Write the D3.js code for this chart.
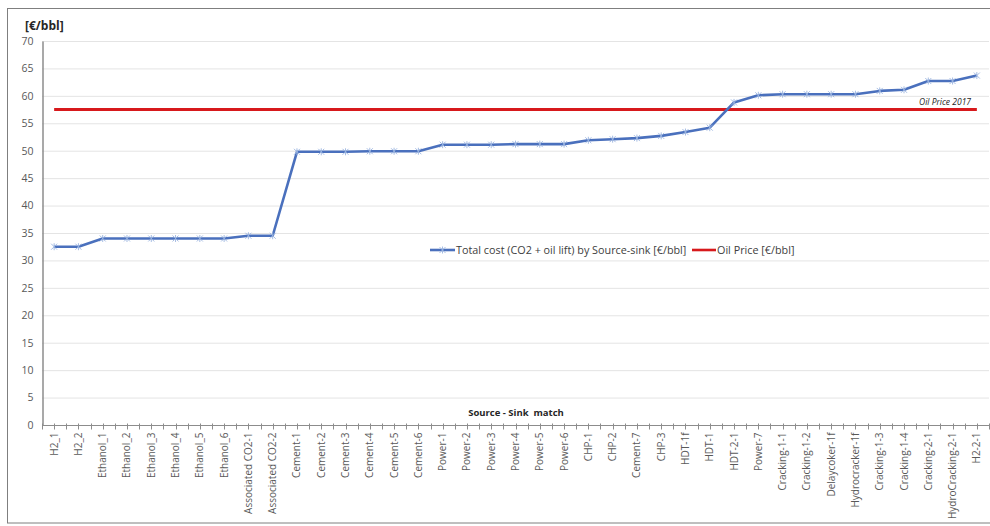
<!DOCTYPE html>
<html>
<head>
<meta charset="utf-8">
<script src="https://cdn.jsdelivr.net/npm/d3@7"></script>
<style>
  html, body { margin: 0; padding: 0; background: #fff; }
  svg { display: block; }
  text { font-family: "Open Sans", "Noto Sans", sans-serif; }
</style>
</head>
<body>
<svg id="chart" width="990" height="526"></svg>
<script>
// Source-sink matches along the x axis
const categories = [
  "H2_1", "H2_2", "Ethanol_1", "Ethanol_2", "Ethanol_3", "Ethanol_4", "Ethanol_5", "Ethanol_6",
  "Associated CO2-1", "Associated CO2-2",
  "Cement-1", "Cement-2", "Cement-3", "Cement-4", "Cement-5", "Cement-6",
  "Power-1", "Power-2", "Power-3", "Power-4", "Power-5", "Power-6",
  "CHP-1", "CHP-2", "Cement-7", "CHP-3", "HDT-1f", "HDT-1", "HDT-2-1", "Power-7",
  "Cracking-1-1", "Cracking-1-2", "Delaycoker-1f", "Hydrocracker-1f",
  "Cracking-1-3", "Cracking-1-4", "Cracking-2-1", "HydroCracking-2-1", "H2-2-1"
];

// Total cost (CO2 + oil lift) per source-sink match, €/bbl
const totalCost = [
  32.5, 32.5, 34.0, 34.0, 34.0, 34.0, 34.0, 34.0,
  34.5, 34.5,
  49.8, 49.8, 49.8, 49.9, 49.9, 49.9,
  51.1, 51.1, 51.1, 51.2, 51.2, 51.2,
  51.9, 52.1, 52.3, 52.7, 53.4, 54.2, 58.8, 60.1,
  60.3, 60.3, 60.3, 60.3,
  60.9, 61.1, 62.7, 62.7, 63.7
];

// Oil price reference, €/bbl
const oilPrice = 57.5;

const yTicks = [0, 5, 10, 15, 20, 25, 30, 35, 40, 45, 50, 55, 60, 65, 70];

const svg = d3.select("#chart");
const plot = { left: 42, right: 989, top: 41, bottom: 425 };

// Outer frame
svg.append("rect")
  .attr("x", 7.5).attr("y", 8.5)
  .attr("width", 990).attr("height", 514.5)
  .attr("fill", "none").attr("stroke", "#7f7f7f").attr("stroke-width", 1);

const x = d3.scaleBand()
  .domain(categories)
  .range([plot.left, plot.right])
  .padding(0);

const y = d3.scaleLinear()
  .domain([0, 70])
  .range([plot.bottom, plot.top]);

const cx = d => x(d) + x.bandwidth() / 2;

// Horizontal gridlines
svg.append("g")
  .selectAll("line")
  .data(yTicks.filter(t => t > 0))
  .join("line")
  .attr("x1", plot.left).attr("x2", plot.right)
  .attr("y1", d => y(d) + 0.5).attr("y2", d => y(d) + 0.5)
  .attr("stroke", "#e4e4e4").attr("stroke-width", 1);

// Y axis
const yAxis = svg.append("g")
  .attr("transform", `translate(${plot.left + 0.5},0)`)
  .call(d3.axisLeft(y).tickValues(yTicks).tickSize(0).tickPadding(9));
yAxis.select(".domain").attr("stroke", "#8c8c8c").attr("stroke-width", 1.5);
yAxis.selectAll("text")
  .attr("fill", "#595959")
  .style("font-size", "10.5px")
  .style("font-family", "\"Open Sans\", sans-serif");

// X axis with ticks on category boundaries and centres
const xAxisG = svg.append("g")
  .attr("transform", `translate(0,${plot.bottom + 0.5})`);
xAxisG.append("line")
  .attr("x1", plot.left).attr("x2", plot.right)
  .attr("stroke", "#8c8c8c").attr("stroke-width", 1.2);
const tickPositions = [];
categories.forEach(c => { tickPositions.push(x(c)); tickPositions.push(cx(c)); });
tickPositions.push(plot.right);
xAxisG.selectAll("line.tick")
  .data(tickPositions)
  .join("line")
  .attr("class", "tick")
  .attr("x1", d => Math.round(d) + 0.5).attr("x2", d => Math.round(d) + 0.5)
  .attr("y1", -2).attr("y2", 4)
  .attr("stroke", "#8c8c8c").attr("stroke-width", 1);

xAxisG.selectAll("text.lbl")
  .data(categories)
  .join("text")
  .attr("class", "lbl")
  .attr("transform", d => `translate(${cx(d) + 3.5},7) rotate(-90)`)
  .attr("text-anchor", "end")
  .attr("fill", "#595959")
  .style("font-size", "10px")
  .text(d => d);

// Oil price reference line
svg.append("line")
  .attr("x1", cx(categories[0])).attr("x2", cx(categories[categories.length - 1]))
  .attr("y1", y(oilPrice)).attr("y2", y(oilPrice))
  .attr("stroke", "#d7191c").attr("stroke-width", 3);

svg.append("text")
  .attr("x", 971).attr("y", y(oilPrice) - 5)
  .attr("text-anchor", "end")
  .attr("fill", "#262626")
  .style("font-size", "8.5px")
  .style("font-style", "italic")
  .text("Oil Price 2017");

// Total cost line
const line = d3.line()
  .x((d, i) => cx(categories[i]))
  .y(d => y(d));

svg.append("path")
  .datum(totalCost)
  .attr("d", line)
  .attr("fill", "none")
  .attr("stroke", "#4a70bd")
  .attr("stroke-width", 2.6)
  .attr("stroke-linejoin", "round");

// Star markers
function star(g, px, py, r) {
  g.append("path")
    .attr("d", `M${px - r},${py - r}L${px + r},${py + r}M${px - r},${py + r}L${px + r},${py - r}M${px},${py - r - 0.5}L${px},${py + r + 0.5}`)
    .attr("stroke", "#9bb4e0").attr("stroke-width", 0.9).attr("fill", "none");
}
const markers = svg.append("g");
totalCost.forEach((v, i) => star(markers, cx(categories[i]), y(v), 3));

// Legend
const legend = svg.append("g").attr("transform", "translate(0,250)");
legend.append("line")
  .attr("x1", 430).attr("x2", 455).attr("y1", 0).attr("y2", 0)
  .attr("stroke", "#4a70bd").attr("stroke-width", 2.6);
star(legend, 442.5, 0, 3);
legend.append("text")
  .attr("x", 456).attr("y", 4)
  .attr("fill", "#404040")
  .style("font-size", "10.8px")
  .text("Total cost (CO2 + oil lift) by Source-sink [€/bbl]");
legend.append("line")
  .attr("x1", 692).attr("x2", 716).attr("y1", 0).attr("y2", 0)
  .attr("stroke", "#d7191c").attr("stroke-width", 2.6);
legend.append("text")
  .attr("x", 717).attr("y", 4)
  .attr("fill", "#404040")
  .style("font-size", "10.8px")
  .text("Oil Price [€/bbl]");

// Unit label
svg.append("text")
  .attr("x", 25).attr("y", 30)
  .attr("fill", "#262626")
  .style("font-size", "12px")
  .style("font-weight", "bold")
  .text("[€/bbl]");

// X axis title
svg.append("text")
  .attr("x", 516).attr("y", 416)
  .attr("text-anchor", "middle")
  .attr("fill", "#262626")
  .style("font-size", "9.5px")
  .style("font-weight", "bold")
  .attr("xml:space", "preserve")
  .text("Source - Sink  match");
</script>
</body>
</html>
